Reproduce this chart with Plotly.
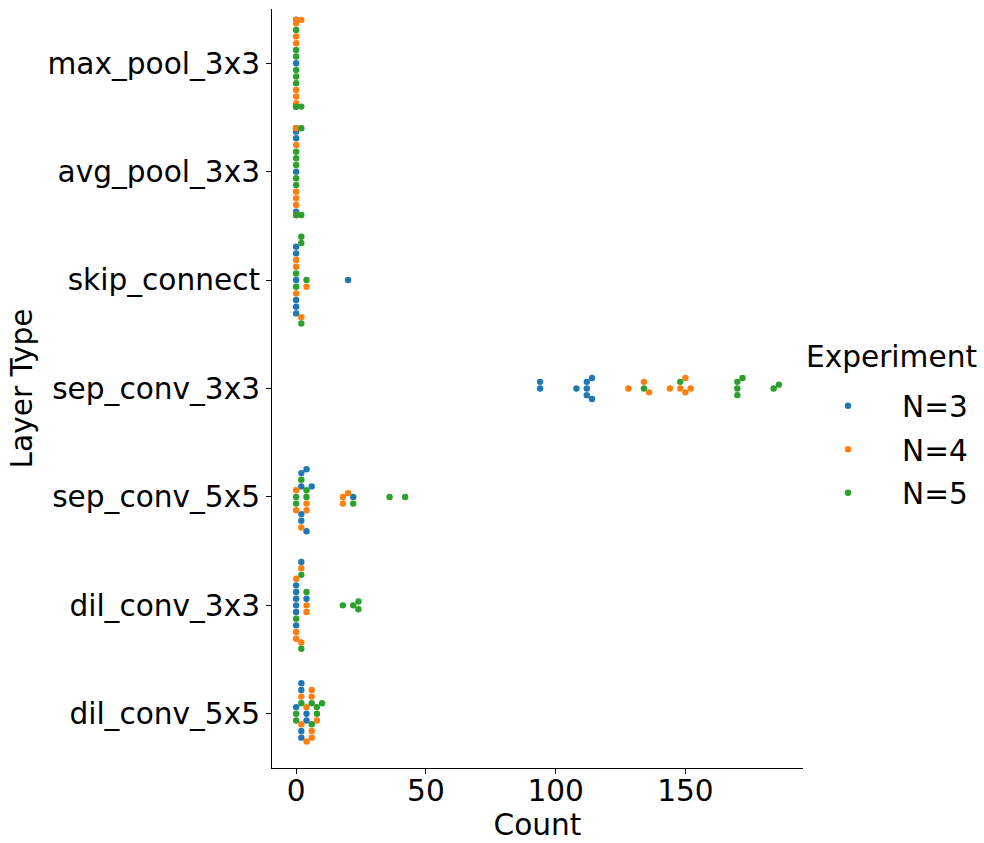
import numpy as np
import plotly.graph_objects as go

# ---------------- data ----------------
categories = ["max_pool_3x3", "avg_pool_3x3", "skip_connect", "sep_conv_3x3",
              "sep_conv_5x5", "dil_conv_3x3", "dil_conv_5x5"]
experiments = [3, 4, 5]
experiment_labels = ["N=3", "N=4", "N=5"]
experiment_colors = ["#1f77b4", "#ff7f0e", "#2ca02c"]
x_ticks = [0, 50, 100, 150]

max_pool_3x3_count = [0, 0, 0, 0, 0, 0, 0, 0, 0, 0, 0, 0, 0, 0, 0, 0, 0, 0, 0, 0, 0, 0, 2, 2]
max_pool_3x3_exp = [3, 5, 5, 5, 5, 4, 5, 4, 4, 5, 4, 4, 4, 3, 3, 3, 3, 3, 3, 3, 5, 4, 5, 4]

avg_pool_3x3_count = [0, 0, 0, 0, 0, 0, 0, 0, 0, 0, 0, 0, 0, 0, 0, 0, 0, 0, 0, 0, 0, 0, 2, 2]
avg_pool_3x3_exp = [3, 5, 5, 5, 5, 5, 4, 4, 4, 3, 4, 3, 3, 3, 4, 3, 4, 3, 4, 3, 5, 4, 5, 5]

skip_connect_count = [0, 0, 0, 0, 0, 0, 0, 0, 0, 0, 0, 2, 2, 2, 2, 4, 4, 20]
skip_connect_exp = [3, 5, 5, 4, 4, 3, 4, 3, 3, 3, 3, 4, 5, 5, 5, 5, 4, 3]

sep_conv_3x3_count = [94, 94, 108, 112, 112, 112, 114, 114, 128, 134, 134, 136,
                      144, 148, 148, 150, 150, 152, 170, 170, 170, 172, 184, 186]
sep_conv_3x3_exp = [3, 3, 3, 3, 3, 3, 3, 3, 4, 5, 4, 4, 4, 4, 5, 4, 4, 4, 5, 5, 5, 5, 5, 5]

sep_conv_5x5_count = [0, 0, 0, 0, 2, 2, 2, 2, 2, 2, 4, 4, 4, 4, 4, 4, 6, 18, 18, 20, 22, 22, 36, 42]
sep_conv_5x5_exp = [5, 5, 4, 4, 3, 3, 5, 3, 3, 4, 5, 5, 4, 4, 3, 3, 3, 4, 4, 4, 3, 5, 5, 5]

dil_conv_3x3_count = [0, 0, 0, 0, 0, 0, 0, 0, 0, 0, 2, 2, 2, 2, 2, 4, 4, 4, 4, 18, 22, 24, 24]
dil_conv_3x3_exp = [3, 3, 3, 5, 3, 3, 3, 4, 4, 4, 5, 4, 4, 5, 3, 4, 3, 4, 5, 5, 5, 5, 5]

dil_conv_5x5_count = [0, 0, 0, 2, 2, 2, 2, 2, 2, 2, 4, 4, 4, 4, 6, 6, 6, 6, 6, 6, 8, 8, 8, 10]
dil_conv_5x5_exp = [5, 3, 5, 5, 4, 4, 3, 3, 3, 3, 3, 4, 3, 4, 5, 5, 4, 4, 4, 4, 5, 5, 4, 5]

category_data = {
    "max_pool_3x3": (max_pool_3x3_count, max_pool_3x3_exp),
    "avg_pool_3x3": (avg_pool_3x3_count, avg_pool_3x3_exp),
    "skip_connect": (skip_connect_count, skip_connect_exp),
    "sep_conv_3x3": (sep_conv_3x3_count, sep_conv_3x3_exp),
    "sep_conv_5x5": (sep_conv_5x5_count, sep_conv_5x5_exp),
    "dil_conv_3x3": (dil_conv_3x3_count, dil_conv_3x3_exp),
    "dil_conv_5x5": (dil_conv_5x5_count, dil_conv_5x5_exp),
}

# side tried first when the swarm has a tie (rendering detail of the swarm layout)
swarm_up_first = {"max_pool_3x3": True, "avg_pool_3x3": True, "skip_connect": False,
                  "sep_conv_3x3": True, "sep_conv_5x5": False, "dil_conv_3x3": False,
                  "dil_conv_5x5": True}

# ---------------- layout geometry ----------------
W, H = 984, 843
M_L, M_R, M_T, M_B = 272, 181, 9, 75
PLOT_W = W - M_L - M_R
PLOT_H = H - M_T - M_B
X_RANGE = [-9.3, 195.3]
PX_PER_UNIT = PLOT_W / (X_RANGE[1] - X_RANGE[0])
CAT_PX = PLOT_H / len(categories)
MARKER_D = 6.4
GUTTER = 0.4  # half of the category width (0.8)
FONT = "DejaVu Sans"
FS = 29.6


def px_to_paper_x(px):
    return (px - M_L) / PLOT_W


def px_to_paper_y(py):
    return (H - M_B - py) / PLOT_H


def beeswarm(vals_px, diam, up_first):
    """seaborn-style beeswarm; returns categorical offsets in px (down positive)."""
    sign = -1.0 if up_first else 1.0
    swarm = []
    for v in vals_px:
        if not swarm:
            swarm.append((0.0, v))
            continue
        neighbors = []
        for cj, vj in reversed(swarm):
            if v - vj < diam:
                neighbors.append((cj, vj))
            else:
                break
        neighbors = neighbors[::-1]
        cands = [0.0]
        left_first = True
        for cj, vj in neighbors:
            dy = v - vj
            dx = np.sqrt(max(diam ** 2 - dy ** 2, 0.0)) * 1.05
            cl, cr = cj + sign * dx, cj - sign * dx
            cands.extend([cl, cr] if left_first else [cr, cl])
            left_first = not left_first
        cands = np.array(cands)
        order = np.argsort(np.round(np.abs(cands), 6), kind="stable")
        chosen = cands[order[0]]
        for c in cands[order]:
            ok = all((cj - c) ** 2 + (vj - v) ** 2 >= diam ** 2 - 1e-9 for cj, vj in neighbors)
            if ok:
                chosen = c
                break
        swarm.append((chosen, v))
    return np.array([s[0] for s in swarm])


xs = {e: [] for e in experiments}
ys = {e: [] for e in experiments}
for ci, cat in enumerate(categories):
    counts, exps = category_data[cat]
    counts = np.asarray(counts, dtype=float)
    exps = np.asarray(exps)
    order = np.argsort(counts, kind="stable")
    counts, exps = counts[order], exps[order]
    off = beeswarm(counts * PX_PER_UNIT, 6.35, swarm_up_first[cat])
    off = np.clip(off / CAT_PX, -GUTTER, GUTTER)
    for c, e, o in zip(counts, exps, off):
        xs[e].append(c)
        ys[e].append(ci + o)

fig = go.Figure()
for e, lab, col in zip(experiments, experiment_labels, experiment_colors):
    fig.add_trace(go.Scatter(
        x=xs[e], y=ys[e], mode="markers", name=lab, legendgroup=lab,
        marker=dict(color=col, size=MARKER_D, line=dict(width=0)),
        hoverinfo="x+name",
    ))

axis_common = dict(showline=True, linecolor="black", linewidth=1.1, ticks="outside",
                   ticklen=5, tickwidth=1.1, tickcolor="black", showgrid=False,
                   zeroline=False, tickfont=dict(family=FONT, size=FS, color="black"),
                   mirror=False)

fig.update_layout(
    width=W, height=H,
    margin=dict(l=M_L, r=M_R, t=M_T, b=M_B, autoexpand=False),
    paper_bgcolor="white", plot_bgcolor="white",
    font=dict(family=FONT, size=FS, color="black"),
    xaxis=dict(range=X_RANGE, tickvals=x_ticks, ticklabelstandoff=-9,
               title=dict(text="Count", font=dict(family=FONT, size=FS), standoff=4),
               **axis_common),
    yaxis=dict(range=[len(categories) - 0.5, -0.5], tickvals=list(range(len(categories))),
               ticktext=categories,
               title=dict(text="Layer Type", font=dict(family=FONT, size=FS), standoff=6),
               **axis_common),
    legend=dict(x=px_to_paper_x(794), y=px_to_paper_y(380), xanchor="left", yanchor="top",
                font=dict(family=FONT, size=FS), itemwidth=98,
                bgcolor="rgba(0,0,0,0)", tracegroupgap=2),
    annotations=[dict(text="Experiment", x=px_to_paper_x(804), y=px_to_paper_y(357),
                      xref="paper", yref="paper", xanchor="left", yanchor="middle",
                      showarrow=False, font=dict(family=FONT, size=FS, color="black"))],
    showlegend=True,
)

fig.write_html("out.html", config={"displayModeBar": False},
               post_script="document.body.style.margin='0px';document.body.style.overflow='hidden';")
